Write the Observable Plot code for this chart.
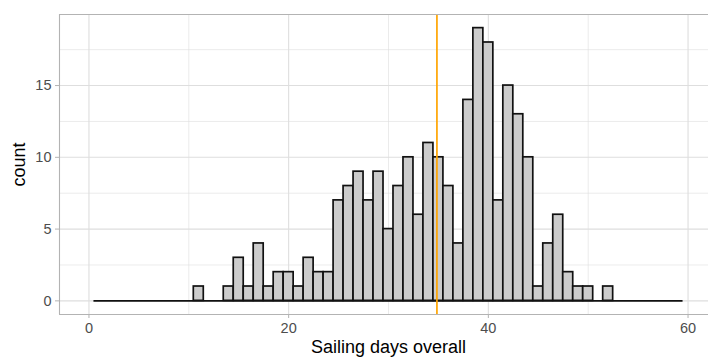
<!DOCTYPE html>
<html>
<head>
<meta charset="utf-8">
<script src="https://cdn.jsdelivr.net/npm/d3@7"></script>
<script src="https://cdn.jsdelivr.net/npm/@observablehq/plot@0.6"></script>
<style>
  html, body { margin: 0; padding: 0; background: #ffffff; overflow: hidden; }
  #chart svg { display: block; }
</style>
</head>
<body>
<div id="chart"></div>
<script>
// Bin centres (sailing days) and histogram counts
const days = [1,2,3,4,5,6,7,8,9,10,11,12,13,14,15,16,17,18,19,20,
              21,22,23,24,25,26,27,28,29,30,31,32,33,34,35,36,37,38,39,40,
              41,42,43,44,45,46,47,48,49,50,51,52,53,54,55,56,57,58,59];
const counts = [0,0,0,0,0,0,0,0,0,0,1,0,0,1,3,1,4,1,2,2,
                1,3,2,2,7,8,9,7,9,5,8,10,6,11,10,8,4,14,19,18,
                7,15,13,10,1,4,6,2,1,1,0,1,0,0,0,0,0,0,0];
const meanDays = 34.85;
const xTicks = [0, 20, 40, 60];
const xMinor = [10, 30, 50];
const yTicks = [0, 5, 10, 15];
const yMinor = [2.5, 7.5, 12.5, 17.5];
const xTitle = "Sailing days overall";
const yTitle = "count";

const bins = days.map((d, i) => ({x1: d - 0.5, x2: d + 0.5, count: counts[i]}));
const xLo = bins[0].x1, xHi = bins[bins.length - 1].x2;
const xPad = (xHi - xLo) * 0.05 + 0.5;
const xDomain = [xLo - xPad, xHi + xPad];
const yMax = d3.max(counts);
const yDomain = [-yMax * 0.05, yMax * 1.05];

const font = "'Liberation Sans', Arial, Helvetica, sans-serif";
const grid = "#dedede";
const border = "#b3b3b3";

const plot = Plot.plot({
  width: 708,
  height: 358,
  marginLeft: 59,
  marginRight: 0,
  marginTop: 14,
  marginBottom: 44,
  style: {fontFamily: font, background: "#ffffff", overflow: "hidden"},
  x: {domain: xDomain, range: [59, 717]},
  y: {domain: yDomain},
  marks: [
    // grid
    Plot.ruleX(xMinor, {stroke: grid, strokeWidth: 0.6}),
    Plot.ruleY(yMinor, {stroke: grid, strokeWidth: 0.6}),
    Plot.ruleX(xTicks, {stroke: grid, strokeWidth: 1.1}),
    Plot.ruleY(yTicks, {stroke: grid, strokeWidth: 1.1}),
    // zero-height bins outline
    Plot.ruleY([0], {x1: xLo, x2: xHi, stroke: "#111", strokeWidth: 1.7}),
    // histogram bars
    Plot.rectY(bins.filter(b => b.count > 0), {
      x1: "x1", x2: "x2", y1: 0, y2: "count",
      fill: "#cccccc", stroke: "#111", strokeWidth: 1.7, inset: 0
    }),
    // mean line
    Plot.ruleX([meanDays], {stroke: "#ffa500", strokeWidth: 1.7}),
    // panel border
    Plot.ruleY([yDomain[0], yDomain[1]], {stroke: border, strokeWidth: 1.1}),
    Plot.ruleX([xDomain[0]], {stroke: border, strokeWidth: 1.1}),
    // axes
    Plot.axisX({anchor: "bottom", ticks: xTicks, tickSize: 4, tickPadding: 4,
      stroke: border, fill: "#4d4d4d", fontSize: 14.5, label: null}),
    Plot.axisY({anchor: "left", ticks: yTicks, tickSize: 4, tickPadding: 4,
      stroke: border, fill: "#4d4d4d", fontSize: 14.5, label: null}),
    // axis titles
    Plot.text([xTitle], {x: () => (xDomain[0] + xDomain[1]) / 2, frameAnchor: "bottom",
      text: d => d, lineAnchor: "top", dy: 26, fontSize: 18, fill: "#000"}),
    Plot.text([yTitle], {frameAnchor: "left", text: d => d, rotate: -90,
      lineAnchor: "middle", textAnchor: "middle", dx: -40, fontSize: 18, fill: "#000"})
  ]
});
document.getElementById("chart").appendChild(plot);
</script>
</body>
</html>
